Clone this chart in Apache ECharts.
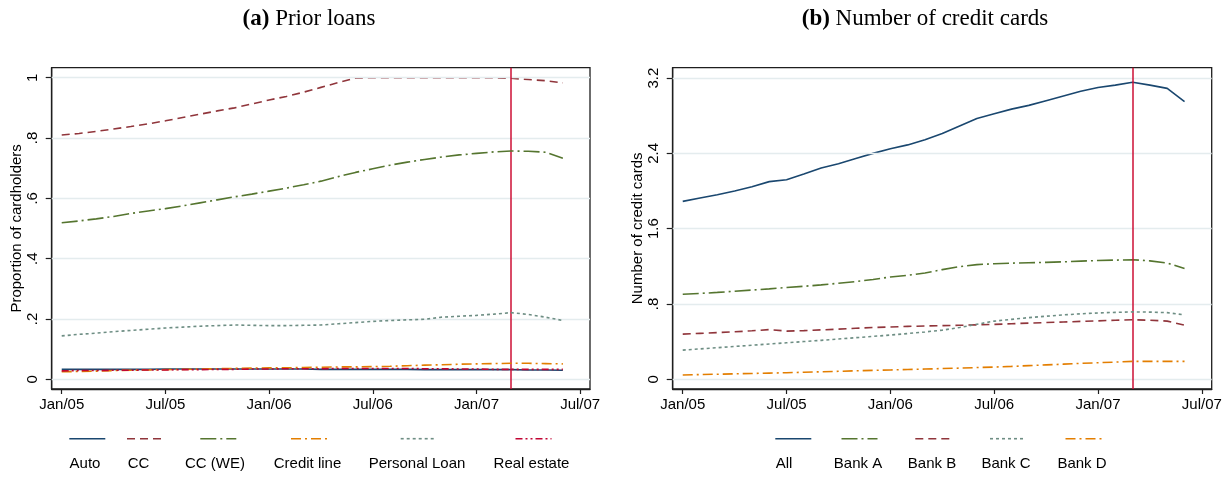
<!DOCTYPE html>
<html><head><meta charset="utf-8">
<script src="https://cdn.jsdelivr.net/npm/echarts@6/dist/echarts.min.js"></script>
<style>html,body{margin:0;padding:0;background:#fff}#c{width:1231px;height:479px}</style>
</head><body><div id="c"></div>
<script>
// ---------------- DATA ----------------
const months = ['Jan/05','Feb/05','Mar/05','Apr/05','May/05','Jun/05','Jul/05','Aug/05','Sep/05','Oct/05','Nov/05','Dec/05',
                'Jan/06','Feb/06','Mar/06','Apr/06','May/06','Jun/06','Jul/06','Aug/06','Sep/06','Oct/06','Nov/06','Dec/06',
                'Jan/07','Feb/07','Mar/07','Apr/07','May/07','Jun/07'];
const xTickLabels = ['Jan/05','Jul/05','Jan/06','Jul/06','Jan/07','Jul/07'];
const xTickValues = [0, 6, 12, 18, 24, 30];
const eventMonth = 'Mar/07';

const loanNames = ['Auto','CC','CC (WE)','Credit line','Personal Loan','Real estate'];
const auto = [.033,.033,.033,.033,.033,.033,.034,.034,.034,.034,.034,.034,.034,.034,.034,.033,.033,.033,.033,.033,.033,.032,.032,.032,.032,.032,.032,.031,.031,.030];
const cc = [.810,.815,.822,.830,.838,.847,.857,.868,.879,.890,.900,.913,.926,.938,.952,.968,.984,.999,1.0,1.0,1.0,1.0,1.0,1.0,1.0,1.0,.998,.994,.990,.983];
const ccWE = [.519,.525,.532,.540,.550,.558,.566,.575,.585,.595,.605,.614,.624,.634,.645,.657,.672,.686,.698,.710,.720,.729,.737,.744,.749,.754,.757,.756,.753,.733];
const creditLine = [.025,.026,.027,.029,.030,.031,.032,.033,.034,.035,.036,.037,.038,.038,.039,.040,.041,.041,.042,.043,.045,.047,.048,.050,.051,.052,.053,.053,.052,.051];
const personalLoan = [.144,.149,.153,.158,.162,.166,.170,.173,.176,.178,.180,.179,.178,.178,.179,.180,.184,.188,.192,.195,.197,.199,.206,.209,.212,.216,.221,.215,.206,.195];
const realEstate = [.028,.029,.029,.030,.030,.031,.031,.032,.032,.033,.033,.034,.034,.035,.035,.035,.036,.036,.036,.036,.036,.035,.035,.034,.034,.033,.033,.033,.033,.033];

const cardNames = ['All','Bank A','Bank B','Bank C','Bank D'];
const allCards = [1.89,1.925,1.96,2.0,2.045,2.10,2.12,2.18,2.245,2.29,2.345,2.40,2.45,2.49,2.545,2.61,2.69,2.77,2.82,2.87,2.91,2.96,3.01,3.06,3.10,3.125,3.155,3.125,3.09,2.95];
const bankA = [.904,.912,.923,.935,.948,.961,.975,.988,1.003,1.02,1.038,1.06,1.087,1.105,1.13,1.165,1.197,1.218,1.228,1.234,1.238,1.242,1.248,1.255,1.262,1.266,1.27,1.258,1.235,1.176];
const bankB = [.48,.488,.496,.505,.515,.528,.512,.517,.525,.533,.542,.55,.556,.562,.566,.57,.574,.578,.583,.59,.597,.603,.609,.615,.621,.627,.632,.628,.618,.575];
const bankC = [.31,.323,.336,.349,.362,.375,.388,.401,.414,.428,.442,.456,.47,.486,.503,.522,.55,.585,.618,.637,.655,.67,.684,.696,.705,.711,.716,.714,.708,.684];
const bankD = [.046,.05,.054,.058,.062,.066,.07,.075,.08,.085,.09,.095,.099,.104,.109,.114,.119,.125,.13,.137,.145,.153,.161,.169,.176,.183,.19,.19,.191,.19];

const yTicksA = [0, 0.2, 0.4, 0.6, 0.8, 1];
const yTickLabelsA = ['0','.2','.4','.6','.8','1'];
const yTicksB = [0, 0.8, 1.6, 2.4, 3.2];
const yTickLabelsB = ['0','.8','1.6','2.4','3.2'];

// ---------------- STYLES / LAYOUT ----------------
const NAVY='#1a476f', MAROON='#90353b', GREEN='#55752f', ORANGE='#e37e00', TEAL='#6e8e84', CRAN='#c10534';
const DASH = [8,5], LDASHDOT = [16,4,2,4], DASHDOT = [10,4,2,4], SHORT = [3,3], DASHDOTDOT = [7,3,2,3,2,3];
const loanStyles = [
  {color:NAVY, dash:'solid'}, {color:MAROON, dash:DASH}, {color:GREEN, dash:LDASHDOT},
  {color:ORANGE, dash:DASHDOT}, {color:TEAL, dash:SHORT}, {color:CRAN, dash:DASHDOTDOT}];
const cardStyles = [
  {color:NAVY, dash:'solid'}, {color:GREEN, dash:LDASHDOT}, {color:MAROON, dash:DASH},
  {color:TEAL, dash:SHORT}, {color:ORANGE, dash:DASHDOT}];
const loanLegendPos = [[87.3,85],[145,138.5],[218.3,215],[309,307.5],[418.7,417],[533.5,531.5]];
const cardLegendPos = [[793.3,784],[859.5,858],[933.3,932],[1008,1006],[1083.5,1082]];
const titleCenters = [309, 925];

const FONT = 'Liberation Sans, Arial, sans-serif';
const FRAME = '#1e1e1e';
const GRIDC = '#e4ecee';
const EVENTC = '#cc0f35';

const grids = [
  {left: 51.7, top: 67.7, width: 538.3, height: 321.3},
  {left: 672.7, top: 67.7, width: 539, height: 321.3}
];

function labelFor(ticks, labels) {
  return v => { for (let i=0;i<ticks.length;i++) if (Math.abs(ticks[i]-v)<1e-6) return labels[i]; return ''; };
}
function xAxis(gi) {
  return {
    type:'value', gridIndex:gi, min:-0.58, max:30.57,
    axisLine:{show:true, onZero:false, lineStyle:{color:FRAME, width:1.3}},
    axisTick:{show:true, customValues:xTickValues, length:5, lineStyle:{color:FRAME, width:1.2}},
    axisLabel:{customValues:xTickValues, formatter:labelFor(xTickValues, xTickLabels), margin:8,
               color:'#000', fontFamily:FONT, fontSize:15},
    splitLine:{show:false}
  };
}
function yAxis(gi, min, max, ticks, labels, name) {
  return {
    type:'value', gridIndex:gi, min:min, max:max, name:name, nameLocation:'middle', nameGap:26,
    nameTextStyle:{color:'#000', fontFamily:FONT, fontSize:15},
    axisLine:{show:true, onZero:false, lineStyle:{color:FRAME, width:1.3}},
    axisTick:{show:true, customValues:ticks, length:6, lineStyle:{color:FRAME, width:1.2}},
    axisLabel:{customValues:ticks, formatter:labelFor(ticks, labels), rotate:90, margin:11,
               color:'#000', fontFamily:FONT, fontSize:15},
    splitLine:{show:false}
  };
}
function toPts(vals) { return vals.map((v,i) => [months.indexOf(months[i]), v]); }

const series = [];
function helper(gi, ticks) {
  series.push({
    type:'line', xAxisIndex:gi, yAxisIndex:gi, data:[[0, ticks[0]]], symbol:'none', silent:true,
    lineStyle:{opacity:0}, z:1, animation:false,
    markLine:{silent:true, symbol:'none', animation:false, label:{show:false},
      lineStyle:{color:GRIDC, width:1.3, type:'solid'},
      data: ticks.map(t => ({yAxis:t}))}
  });
}
function addSeries(gi, names, arrays, styles) {
  names.forEach((n,i) => series.push({
    name:n, type:'line', xAxisIndex:gi, yAxisIndex:gi, data:toPts(arrays[i]), symbol:'none',
    showSymbol:false, smooth:false, animation:false, z:3+i,
    lineStyle:{color:styles[i].color, width:1.6, type:styles[i].dash}
  }));
}
function eventLine(gi) {
  series.push({
    type:'line', xAxisIndex:gi, yAxisIndex:gi, data:[[0,0]], symbol:'none', silent:true,
    lineStyle:{opacity:0}, z:20, animation:false,
    markLine:{silent:true, symbol:'none', animation:false, label:{show:false},
      lineStyle:{color:EVENTC, width:1.5, type:'solid'},
      data:[{xAxis: months.indexOf(eventMonth)}]}
  });
}
helper(0, yTicksA); helper(1, yTicksB);
addSeries(0, loanNames, [auto, cc, ccWE, creditLine, personalLoan, realEstate], loanStyles);
addSeries(1, cardNames, [allCards, bankA, bankB, bankC, bankD], cardStyles);
eventLine(0); eventLine(1);

const graphics = [];
function title(cx, tag, text) {
  graphics.push({type:'text', x:cx, y:19, style:{
    text:'{b|' + tag + '} ' + text, textAlign:'center', textVerticalAlign:'middle',
    font:'23px "Liberation Serif", serif', fill:'#000',
    rich:{b:{fontWeight:'bold', fontSize:23, fontFamily:'Liberation Serif'}}}});
}
title(titleCenters[0], '(a)', 'Prior loans');
title(titleCenters[1], '(b)', 'Number of credit cards');
function legend(names, styles, pos) {
  names.forEach((n,i) => {
    const [kc, lc] = pos[i];
    graphics.push({type:'line', shape:{x1:kc-18, y1:438.7, x2:kc+18, y2:438.7},
      style:{stroke:styles[i].color, lineWidth:1.6, lineDash: styles[i].dash==='solid' ? null : styles[i].dash}});
    graphics.push({type:'text', x:lc, y:463.5, style:{text:n, textAlign:'center', textVerticalAlign:'middle',
      font:'15px ' + FONT, fill:'#000'}});
  });
}
legend(loanNames, loanStyles, loanLegendPos);
legend(cardNames, cardStyles, cardLegendPos);

const chart = echarts.init(document.getElementById('c'), null, {renderer:'canvas'});
chart.setOption({
  backgroundColor:'#fff',
  animation:false,
  grid: grids.map(g => Object.assign({show:true, borderColor:FRAME, borderWidth:1.3, backgroundColor:'#fff', containLabel:false}, g)),
  xAxis:[xAxis(0), xAxis(1)],
  yAxis:[yAxis(0, -0.0322, 1.0332, yTicksA, yTickLabelsA, 'Proportion of cardholders'),
         yAxis(1, -0.103, 3.31, yTicksB, yTickLabelsB, 'Number of credit cards')],
  series: series,
  graphic: graphics
});
</script></body></html>
